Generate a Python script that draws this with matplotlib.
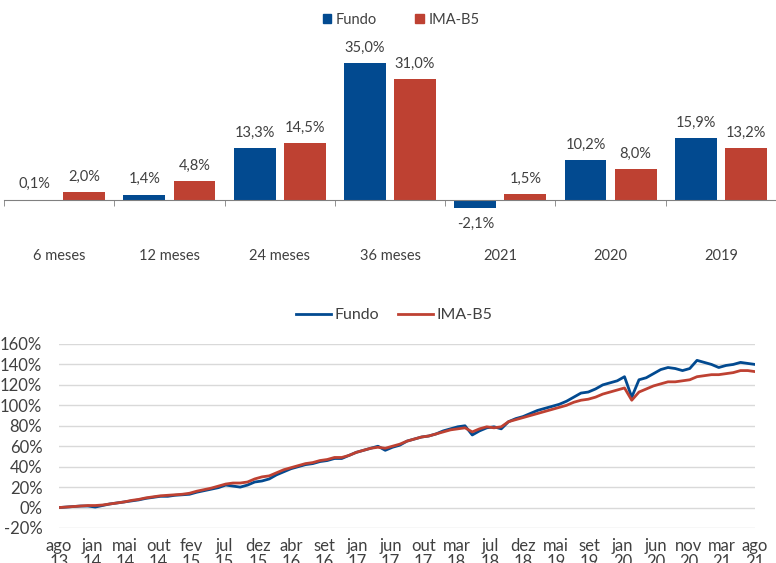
import numpy as np
import matplotlib
matplotlib.use("Agg")
import matplotlib.pyplot as plt
from matplotlib.lines import Line2D
from matplotlib.patches import Patch

# ---------------- dados ----------------
categorias = ["6 meses", "12 meses", "24 meses", "36 meses", "2021", "2020", "2019"]
fundo_bar = [0.1, 1.4, 13.3, 35.0, -2.1, 10.2, 15.9]
imab5_bar = [2.0, 4.8, 14.5, 31.0, 1.5, 8.0, 13.2]

# retorno acumulado mensal, ago/13 ate ago/21 (97 pontos)
fundo_acum = [
    0, 0.5, 1, 1.5, 1.5, 0.5, 2, 3.5, 4.5, 5.5, 6.5, 7.5, 9, 10, 11, 11,
    12, 12.5, 13, 15, 16.5, 18, 19.5, 22, 21, 20, 22, 25, 26, 28, 32, 35,
    38, 40, 42, 43, 45, 46, 48, 48, 51, 54, 56, 58, 60, 56, 59, 61,
    65, 67, 69, 70, 72, 75, 77, 79, 80, 71, 75, 78, 79, 77, 84, 87,
    89, 92, 95, 97, 99, 101, 104, 108, 112, 113, 116, 120, 122, 124, 128, 108,
    125, 127, 131, 135, 137, 136, 134, 136, 144, 142, 140, 137, 139, 140, 142, 141,
    140,
]
imab5_acum = [
    0, 0.5, 1, 1.5, 2, 2, 2.5, 3.5, 4.5, 5.5, 7, 8, 9.5, 10.5, 11.5, 12,
    12.5, 13, 14, 16, 17.5, 19, 21, 23, 24, 24, 25, 28, 30, 31, 34, 37,
    39, 41, 43, 44, 46, 47, 49, 49, 51, 54, 56, 58, 59, 58, 60, 62,
    65, 67, 69, 70, 72, 74, 76, 77, 78, 74, 77, 79, 78, 79, 84, 86,
    88, 90, 92, 94, 96, 98, 100, 103, 105, 106, 108, 111, 113, 115, 117, 105,
    113, 116, 119, 121, 123, 123, 124, 125, 128, 129, 130, 130, 131, 132, 134, 134,
    133,
]
rotulos_x = ["ago\n13", "jan\n14", "mai\n14", "out\n14", "fev\n15", "jul\n15", "dez\n15",
             "abr\n16", "set\n16", "jan\n17", "jun\n17", "out\n17", "mar\n18", "jul\n18",
             "dez\n18", "mai\n19", "set\n19", "jan\n20", "jun\n20", "nov\n20", "mar\n21",
             "ago\n21"]

AZUL = "#024A90"
VERMELHO = "#BE4132"
TEXTO = "#404040"
FONTE = ["Lato", "DejaVu Sans"]

fig = plt.figure(figsize=(7.76, 5.63), dpi=100)

# ---------------- grafico de barras ----------------
ax1 = fig.add_axes([4 / 776, 1 - 220 / 563, 772 / 776, 180 / 563])
x = np.arange(len(categorias))
w = 0.38
d = 0.227
b1 = ax1.bar(x - d, fundo_bar, w, color=AZUL)
b2 = ax1.bar(x + d, imab5_bar, w, color=VERMELHO)
ax1.set_xlim(-0.5, len(categorias) - 0.5)
ax1.set_ylim(-5.1, 40.9)
for barras, vals in ((b1, fundo_bar), (b2, imab5_bar)):
    for b, v in zip(barras, vals):
        txt = f"{v:.1f}%".replace(".", ",")
        if v >= 0:
            ax1.annotate(txt, (b.get_x() + b.get_width() / 2, v), xytext=(0, 6),
                         textcoords="offset points", ha="center", va="bottom",
                         fontsize=10.5, color=TEXTO, family=FONTE)
        else:
            ax1.annotate(txt, (b.get_x() + b.get_width() / 2, v), xytext=(0, -6),
                         textcoords="offset points", ha="center", va="top",
                         fontsize=10.5, color=TEXTO, family=FONTE)
for s in ("top", "right", "left"):
    ax1.spines[s].set_visible(False)
ax1.spines["bottom"].set_position(("data", 0))
ax1.spines["bottom"].set_color("#808080")
ax1.set_yticks([])
ax1.set_xticks(x)
ax1.set_xticklabels(categorias, fontsize=10.5, color=TEXTO, family=FONTE)
ax1.tick_params(axis="x", which="major", length=0, pad=35)
ax1.set_xticks(np.arange(len(categorias) + 1) - 0.5, minor=True)
ax1.tick_params(axis="x", which="minor", length=4, color="#808080", direction="out")
ax1.legend(handles=[Patch(color=AZUL, label="Fundo"), Patch(color=VERMELHO, label="IMA-B5")],
           loc="center", bbox_to_anchor=(397 / 772, 1 + 20 / 180), ncol=2, frameon=False,
           handlelength=0.6, handleheight=0.6, handletextpad=0.3, columnspacing=2.6,
           prop={"family": FONTE, "size": 10.5}, labelcolor=TEXTO)

# ---------------- grafico de linhas ----------------
ax2 = fig.add_axes([59 / 776, 1 - 528 / 563, 696 / 776, 184 / 563])
meses = np.arange(len(fundo_acum))
ax2.plot(meses, fundo_acum, color=AZUL, lw=2.0, label="Fundo")
ax2.plot(meses, imab5_acum, color=VERMELHO, lw=2.0, label="IMA-B5")
ax2.set_xlim(0, meses[-1])
ax2.set_ylim(-20, 160)
ax2.set_yticks(np.arange(-20, 161, 20))
ax2.set_yticklabels([f"{v}%" for v in range(-20, 161, 20)], family=FONTE,
                    fontsize=12, color=TEXTO)
ax2.set_xticks(np.linspace(0, meses[-1], len(rotulos_x)))
ax2.set_xticklabels(rotulos_x, family=FONTE, fontsize=12, color=TEXTO, linespacing=1.0)
ax2.tick_params(axis="both", length=0)
ax2.tick_params(axis="y", pad=12)
ax2.tick_params(axis="x", pad=7)
ax2.grid(axis="y", color="#d9d9d9", lw=1)
ax2.set_axisbelow(True)
for s in ax2.spines.values():
    s.set_visible(False)
ax2.legend(handles=[Line2D([], [], color=AZUL, lw=2, label="Fundo"),
                    Line2D([], [], color=VERMELHO, lw=2, label="IMA-B5")],
           loc="center", bbox_to_anchor=(335 / 696, 1 + 29 / 184), ncol=2, frameon=False,
           handlelength=2.2, handletextpad=0.2, columnspacing=1.2,
           prop={"family": FONTE, "size": 11.5}, labelcolor=TEXTO)

fig.savefig("out.png", dpi=100)
